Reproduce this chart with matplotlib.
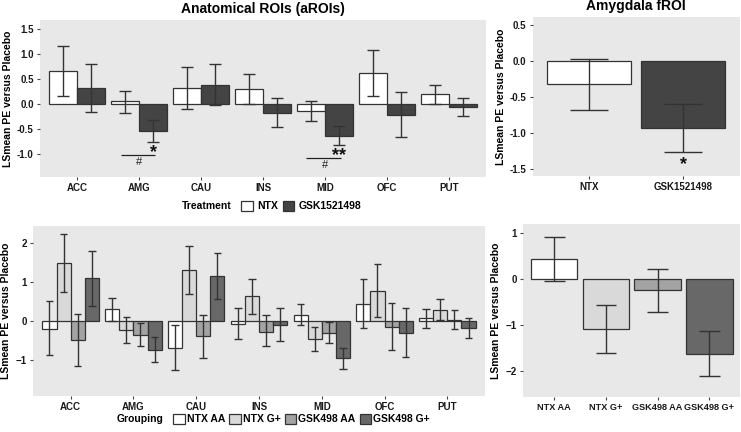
import numpy as np
import matplotlib.pyplot as plt
from matplotlib.patches import Patch

plt.rcParams['font.family'] = ['Liberation Sans', 'DejaVu Sans']
plt.rcParams['font.weight'] = 'bold'
plt.rcParams['axes.titleweight'] = 'bold'
plt.rcParams['axes.labelweight'] = 'bold'

# --- data -------------------------------------------------------------
rois = ['ACC', 'AMG', 'CAU', 'INS', 'MID', 'OFC', 'PUT']

# top left: treatment by anatomical ROI
ntx_mean = [0.66, 0.05, 0.32, 0.30, -0.15, 0.62, 0.19]
ntx_lo = [0.15, -0.18, -0.11, -0.01, -0.34, 0.16, 0.00]
ntx_hi = [1.17, 0.26, 0.75, 0.60, 0.05, 1.09, 0.38]
gsk_mean = [0.32, -0.55, 0.39, -0.18, -0.64, -0.22, -0.06]
gsk_lo = [-0.17, -0.76, -0.03, -0.47, -0.82, -0.66, -0.24]
gsk_hi = [0.80, -0.33, 0.80, 0.12, -0.45, 0.24, 0.11]

# top right: amygdala fROI
froi_groups = ['NTX', 'GSK1521498']
froi_mean = [-0.33, -0.94]
froi_lo = [-0.68, -1.27]
froi_hi = [0.02, -0.60]

# bottom left: grouping by anatomical ROI
groupings = ['NTX AA', 'NTX G+', 'GSK498 AA', 'GSK498 G+']
grp_mean = [
    [-0.19, 0.30, -0.68, -0.07, 0.17, 0.45, 0.07],
    [1.49, -0.22, 1.31, 0.64, -0.46, 0.78, 0.29],
    [-0.49, -0.36, -0.39, -0.27, -0.30, -0.15, 0.04],
    [1.11, -0.74, 1.16, -0.09, -0.96, -0.30, -0.18],
]
grp_lo = [
    [-0.87, 0.00, -1.26, -0.47, -0.10, -0.17, -0.17],
    [0.76, -0.55, 0.70, 0.19, -0.76, 0.10, 0.02],
    [-1.15, -0.64, -0.95, -0.65, -0.56, -0.75, -0.19],
    [0.39, -1.06, 0.57, -0.52, -1.24, -0.93, -0.44],
]
grp_hi = [
    [0.52, 0.59, -0.09, 0.35, 0.43, 1.09, 0.31],
    [2.23, 0.11, 1.93, 1.09, -0.16, 1.46, 0.57],
    [0.18, -0.06, 0.16, 0.15, -0.03, 0.46, 0.29],
    [1.81, -0.42, 1.76, 0.34, -0.69, 0.34, 0.07],
]

# bottom right: amygdala fROI by grouping
froi_grp_mean = [0.42, -1.08, -0.25, -1.62]
froi_grp_lo = [-0.04, -1.60, -0.71, -2.10]
froi_grp_hi = [0.90, -0.57, 0.21, -1.13]

# significance marks (ROI, text, height)
stars = [('AMG', '*', -0.93), ('MID', '**', -0.99)]
hashes = [('AMG', -1.02), ('MID', -1.08)]

# --- style ------------------------------------------------------------
bg = '#e8e8e8'
edge = '#333333'
treat_colors = ['white', '#444444']
grp_colors = ['white', '#d9d9d9', '#a3a3a3', '#686868']


def style_axes(ax):
    ax.set_facecolor(bg)
    for s in ax.spines.values():
        s.set_visible(False)
    ax.tick_params(axis='both', length=2.5, color='#444444', labelsize=7,
                   labelcolor='#1a1a1a', pad=2)
    ax.set_ylabel('LSmean PE versus Placebo', fontsize=7.5, labelpad=3)


def draw_bars(ax, centers, width, means, lo, hi, color, cap):
    ax.bar(centers, means, width=width, color=color, edgecolor=edge,
           linewidth=0.9, zorder=2)
    ax.vlines(centers, lo, hi, color=edge, linewidth=1.0, zorder=3)
    ax.hlines(lo, centers - cap / 2, centers + cap / 2, color=edge,
              linewidth=1.0, zorder=3)
    ax.hlines(hi, centers - cap / 2, centers + cap / 2, color=edge,
              linewidth=1.0, zorder=3)


fig = plt.figure(figsize=(7.41, 4.32), dpi=100)

# top left
ax1 = fig.add_axes([0.054, 0.590, 0.602, 0.363])
x = np.arange(len(rois))
draw_bars(ax1, x - 0.225, 0.45, ntx_mean, ntx_lo, ntx_hi, treat_colors[0], 0.2)
draw_bars(ax1, x + 0.225, 0.45, gsk_mean, gsk_lo, gsk_hi, treat_colors[1], 0.2)
for roi, y in hashes:
    i = rois.index(roi)
    ax1.hlines(y, i - 0.3, i + 0.26, color='#222222', linewidth=0.9)
    ax1.text(i, y - 0.05, '#', ha='center', va='top', fontsize=8,
             fontweight='normal', color='#222222')
for roi, s, y in stars:
    i = rois.index(roi)
    ax1.text(i + 0.23, y - 0.04, s, ha='center', va='center', fontsize=13,
             color='#111111')
ax1.set_xticks(x)
ax1.set_xticklabels(rois)
ax1.set_xlim(-0.6, len(rois) - 0.4)
ax1.set_ylim(-1.47, 1.68)
ax1.set_yticks([-1.0, -0.5, 0.0, 0.5, 1.0, 1.5])
ax1.set_yticklabels(['-1.0', '-0.5', '0.0', '0.5', '1.0', '1.5'])
style_axes(ax1)
ax1.set_title('Anatomical ROIs (aROIs)', fontsize=10, pad=5)

# top right
ax2 = fig.add_axes([0.719, 0.593, 0.279, 0.368])
x2 = np.arange(len(froi_groups))
for i in x2:
    draw_bars(ax2, np.array([i]), 0.9, [froi_mean[i]], [froi_lo[i]],
              [froi_hi[i]], treat_colors[i], 0.4)
ax2.text(1, froi_lo[1] - 0.17, '*', ha='center', va='center', fontsize=13,
         color='#111111')
ax2.set_xticks(x2)
ax2.set_xticklabels(froi_groups)
ax2.set_xlim(-0.6, len(froi_groups) - 0.4)
ax2.set_ylim(-1.6, 0.61)
ax2.set_yticks([-1.5, -1.0, -0.5, 0.0, 0.5])
ax2.set_yticklabels(['-1.5', '-1.0', '-0.5', '0.0', '0.5'])
style_axes(ax2)
ax2.set_title('Amygdala fROI', fontsize=10, pad=5)

# bottom left
ax3 = fig.add_axes([0.0445, 0.083, 0.610, 0.394])
w = 0.225
for g in range(len(groupings)):
    draw_bars(ax3, x + (g - 1.5) * w, w, grp_mean[g], grp_lo[g], grp_hi[g],
              grp_colors[g], 0.12)
ax3.set_xticks(x)
ax3.set_xticklabels(rois)
ax3.set_xlim(-0.6, len(rois) - 0.4)
ax3.set_ylim(-1.93, 2.45)
ax3.set_yticks([-1, 0, 1, 2])
style_axes(ax3)

# bottom right
ax4 = fig.add_axes([0.706, 0.081, 0.293, 0.400])
x4 = np.arange(len(groupings))
for i in x4:
    draw_bars(ax4, np.array([i]), 0.9, [froi_grp_mean[i]], [froi_grp_lo[i]],
              [froi_grp_hi[i]], grp_colors[i], 0.4)
ax4.set_xticks(x4)
ax4.set_xlim(-0.6, len(groupings) - 0.4)
ax4.set_ylim(-2.56, 1.18)
ax4.set_yticks([-2, -1, 0, 1])
style_axes(ax4)
ax4.set_xticklabels(groupings, fontsize=6.6)

# legends
fig.text(0.313, 0.523, 'Treatment', ha='right', va='center', fontsize=7.5)
fig.legend([Patch(facecolor=c, edgecolor=edge, linewidth=0.9) for c in treat_colors],
           froi_groups, loc='center left', bbox_to_anchor=(0.313, 0.523),
           ncol=2, frameon=False, fontsize=7.5, handlelength=1.1,
           handleheight=1.1, handletextpad=0.4, columnspacing=0.5)

fig.text(0.221, 0.030, 'Grouping', ha='right', va='center', fontsize=7.5)
fig.legend([Patch(facecolor=c, edgecolor=edge, linewidth=0.9) for c in grp_colors],
           groupings, loc='center left', bbox_to_anchor=(0.221, 0.030),
           ncol=4, frameon=False, fontsize=7.5, handlelength=1.1,
           handleheight=1.1, handletextpad=0.2, columnspacing=0.4)

fig.savefig('out.png', dpi=100)
